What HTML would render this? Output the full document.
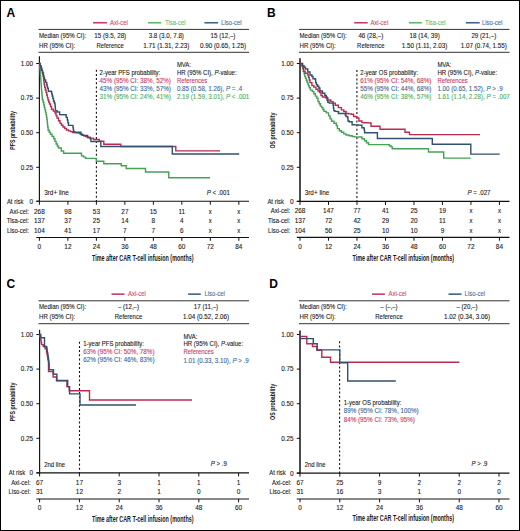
<!DOCTYPE html><html><head><meta charset="utf-8"><style>
html,body{margin:0;padding:0;background:#fff;}
svg{display:block;}
text{font-family:"Liberation Sans",sans-serif;}
</style></head><body>
<svg width="520" height="531" viewBox="0 0 520 531">
<rect x="0.5" y="0.5" width="519" height="530" fill="#fff" stroke="#000" stroke-width="1"/>
<text x="6.6" y="16.6" font-weight="bold" font-size="12" fill="#000">A</text>
<line x1="93.1" y1="22.75" x2="106.9" y2="22.75" stroke="#c43e62" stroke-width="1.6" />
<text transform="translate(110 24.85) scale(0.9444 1)" fill="#cc4a6c" text-anchor="start" font-size="6.3" stroke="#cc4a6c" stroke-width="0.1" >Axi-cel</text>
<line x1="148.1" y1="22.75" x2="161.25" y2="22.75" stroke="#5cb86c" stroke-width="1.6" />
<text transform="translate(165 24.85) scale(0.9444 1)" fill="#66bb76" text-anchor="start" font-size="6.3" stroke="#66bb76" stroke-width="0.1" >Tisa-cel</text>
<line x1="204.4" y1="22.75" x2="218.1" y2="22.75" stroke="#3d6388" stroke-width="1.6" />
<text transform="translate(221.25 24.85) scale(0.9444 1)" fill="#46709a" text-anchor="start" font-size="6.3" stroke="#46709a" stroke-width="0.1" >Liso-cel</text>
<line x1="38.5" y1="29.4" x2="249" y2="29.4" stroke="#333" stroke-width="1" />
<line x1="38.5" y1="52.3" x2="249" y2="52.3" stroke="#333" stroke-width="1" />
<text transform="translate(39 38) scale(0.9645 1)" fill="#1a1a1a" text-anchor="start" font-size="6.3" stroke="#1a1a1a" stroke-width="0.1" >Median (95% CI):</text>
<text transform="translate(39 47.9) scale(0.9706 1)" fill="#1a1a1a" text-anchor="start" font-size="6.3" stroke="#1a1a1a" stroke-width="0.1" >HR (95% CI):</text>
<text transform="translate(110.2 38) scale(0.9952 1)" fill="#1a1a1a" text-anchor="middle" font-size="6.3" stroke="#1a1a1a" stroke-width="0.1" >15 (9.5, 28)</text>
<text transform="translate(110.2 47.9) scale(0.9444 1)" fill="#1a1a1a" text-anchor="middle" font-size="6.3" stroke="#1a1a1a" stroke-width="0.1" >Reference</text>
<text transform="translate(166.3 38) scale(0.9902 1)" fill="#1a1a1a" text-anchor="middle" font-size="6.3" stroke="#1a1a1a" stroke-width="0.1" >3.8 (3.0, 7.8)</text>
<text transform="translate(166.3 47.9) scale(0.9975 1)" fill="#1a1a1a" text-anchor="middle" font-size="6.3" stroke="#1a1a1a" stroke-width="0.1" >1.71 (1.31, 2.23)</text>
<text transform="translate(223 38) scale(0.9877 1)" fill="#1a1a1a" text-anchor="middle" font-size="6.3" stroke="#1a1a1a" stroke-width="0.1" >15 (12,–)</text>
<text transform="translate(223 47.9) scale(0.9975 1)" fill="#1a1a1a" text-anchor="middle" font-size="6.3" stroke="#1a1a1a" stroke-width="0.1" >0.90 (0.65, 1.25)</text>
<line x1="39.4" y1="56.3" x2="39.4" y2="201.25" stroke="#111" stroke-width="1.15" />
<line x1="36.199999999999996" y1="63.5" x2="39.4" y2="63.5" stroke="#111" stroke-width="1" />
<text transform="translate(33.1 65.7) scale(1.0111 1)" fill="#1a1a1a" text-anchor="end" font-size="6.3" stroke="#1a1a1a" stroke-width="0.1" >1.00</text>
<line x1="36.199999999999996" y1="98.1" x2="39.4" y2="98.1" stroke="#111" stroke-width="1" />
<text transform="translate(33.1 100.3) scale(1.0111 1)" fill="#1a1a1a" text-anchor="end" font-size="6.3" stroke="#1a1a1a" stroke-width="0.1" >0.75</text>
<line x1="36.199999999999996" y1="132.7" x2="39.4" y2="132.7" stroke="#111" stroke-width="1" />
<text transform="translate(33.1 134.89999999999998) scale(1.0111 1)" fill="#1a1a1a" text-anchor="end" font-size="6.3" stroke="#1a1a1a" stroke-width="0.1" >0.50</text>
<line x1="36.199999999999996" y1="167.3" x2="39.4" y2="167.3" stroke="#111" stroke-width="1" />
<text transform="translate(33.1 169.5) scale(1.0111 1)" fill="#1a1a1a" text-anchor="end" font-size="6.3" stroke="#1a1a1a" stroke-width="0.1" >0.25</text>
<line x1="36.199999999999996" y1="201.25" x2="39.4" y2="201.25" stroke="#111" stroke-width="1" />
<text transform="translate(33.1 203.75) scale(1.0222 1)" fill="#1a1a1a" text-anchor="end" font-size="6.3" stroke="#1a1a1a" stroke-width="0.1" >0</text>
<text x="0" y="0" fill="#1a1a1a" font-weight="bold" font-size="7.8" textLength="38.7" lengthAdjust="spacingAndGlyphs" text-anchor="middle" transform="translate(15.4,130.5) rotate(-90)">PFS probability</text>
<line x1="36.3" y1="201.25" x2="249" y2="201.25" stroke="#111" stroke-width="1.15" />
<line x1="36.3" y1="237.5" x2="249" y2="237.5" stroke="#111" stroke-width="1.15" />
<line x1="39.4" y1="201.25" x2="39.4" y2="204.75" stroke="#111" stroke-width="1" />
<line x1="39.4" y1="237.5" x2="39.4" y2="240.8" stroke="#111" stroke-width="1" />
<text transform="translate(39.4 248.8) scale(1.0222 1)" fill="#1a1a1a" text-anchor="middle" font-size="6.3" stroke="#1a1a1a" stroke-width="0.1" >0</text>
<line x1="67.89" y1="201.25" x2="67.89" y2="204.75" stroke="#111" stroke-width="1" />
<line x1="67.89" y1="237.5" x2="67.89" y2="240.8" stroke="#111" stroke-width="1" />
<text transform="translate(67.89 248.8) scale(1.0222 1)" fill="#1a1a1a" text-anchor="middle" font-size="6.3" stroke="#1a1a1a" stroke-width="0.1" >12</text>
<line x1="96.38" y1="201.25" x2="96.38" y2="204.75" stroke="#111" stroke-width="1" />
<line x1="96.38" y1="237.5" x2="96.38" y2="240.8" stroke="#111" stroke-width="1" />
<text transform="translate(96.38 248.8) scale(1.0222 1)" fill="#1a1a1a" text-anchor="middle" font-size="6.3" stroke="#1a1a1a" stroke-width="0.1" >24</text>
<line x1="124.87" y1="201.25" x2="124.87" y2="204.75" stroke="#111" stroke-width="1" />
<line x1="124.87" y1="237.5" x2="124.87" y2="240.8" stroke="#111" stroke-width="1" />
<text transform="translate(124.87 248.8) scale(1.0222 1)" fill="#1a1a1a" text-anchor="middle" font-size="6.3" stroke="#1a1a1a" stroke-width="0.1" >36</text>
<line x1="153.35999999999999" y1="201.25" x2="153.35999999999999" y2="204.75" stroke="#111" stroke-width="1" />
<line x1="153.35999999999999" y1="237.5" x2="153.35999999999999" y2="240.8" stroke="#111" stroke-width="1" />
<text transform="translate(153.35999999999999 248.8) scale(1.0222 1)" fill="#1a1a1a" text-anchor="middle" font-size="6.3" stroke="#1a1a1a" stroke-width="0.1" >48</text>
<line x1="181.85" y1="201.25" x2="181.85" y2="204.75" stroke="#111" stroke-width="1" />
<line x1="181.85" y1="237.5" x2="181.85" y2="240.8" stroke="#111" stroke-width="1" />
<text transform="translate(181.85 248.8) scale(1.0222 1)" fill="#1a1a1a" text-anchor="middle" font-size="6.3" stroke="#1a1a1a" stroke-width="0.1" >60</text>
<line x1="210.34" y1="201.25" x2="210.34" y2="204.75" stroke="#111" stroke-width="1" />
<line x1="210.34" y1="237.5" x2="210.34" y2="240.8" stroke="#111" stroke-width="1" />
<text transform="translate(210.34 248.8) scale(1.0222 1)" fill="#1a1a1a" text-anchor="middle" font-size="6.3" stroke="#1a1a1a" stroke-width="0.1" >72</text>
<line x1="238.82999999999998" y1="201.25" x2="238.82999999999998" y2="204.75" stroke="#111" stroke-width="1" />
<line x1="238.82999999999998" y1="237.5" x2="238.82999999999998" y2="240.8" stroke="#111" stroke-width="1" />
<text transform="translate(238.82999999999998 248.8) scale(1.0222 1)" fill="#1a1a1a" text-anchor="middle" font-size="6.3" stroke="#1a1a1a" stroke-width="0.1" >84</text>
<text transform="translate(6.9 203.55) scale(0.9444 1)" fill="#1a1a1a" text-anchor="start" font-size="6.3" stroke="#1a1a1a" stroke-width="0.1" >At risk</text>
<text transform="translate(29 213.5) scale(0.9444 1)" fill="#1a1a1a" text-anchor="end" font-size="6.3" stroke="#1a1a1a" stroke-width="0.1" >Axi-cel:</text>
<text transform="translate(39.4 213.5) scale(1.0222 1)" fill="#1a1a1a" text-anchor="middle" font-size="6.3" stroke="#1a1a1a" stroke-width="0.1" >268</text>
<text transform="translate(67.89 213.5) scale(1.0222 1)" fill="#1a1a1a" text-anchor="middle" font-size="6.3" stroke="#1a1a1a" stroke-width="0.1" >98</text>
<text transform="translate(96.38 213.5) scale(1.0222 1)" fill="#1a1a1a" text-anchor="middle" font-size="6.3" stroke="#1a1a1a" stroke-width="0.1" >53</text>
<text transform="translate(124.87 213.5) scale(1.0222 1)" fill="#1a1a1a" text-anchor="middle" font-size="6.3" stroke="#1a1a1a" stroke-width="0.1" >27</text>
<text transform="translate(153.35999999999999 213.5) scale(1.0222 1)" fill="#1a1a1a" text-anchor="middle" font-size="6.3" stroke="#1a1a1a" stroke-width="0.1" >15</text>
<text transform="translate(181.85 213.5) scale(1.0222 1)" fill="#1a1a1a" text-anchor="middle" font-size="6.3" stroke="#1a1a1a" stroke-width="0.1" >11</text>
<text transform="translate(210.34 213.5) scale(0.9444 1)" fill="#1a1a1a" text-anchor="middle" font-size="6.3" stroke="#1a1a1a" stroke-width="0.1" >x</text>
<text transform="translate(238.82999999999998 213.5) scale(0.9444 1)" fill="#1a1a1a" text-anchor="middle" font-size="6.3" stroke="#1a1a1a" stroke-width="0.1" >x</text>
<text transform="translate(29 223.3) scale(0.9444 1)" fill="#1a1a1a" text-anchor="end" font-size="6.3" stroke="#1a1a1a" stroke-width="0.1" >Tisa-cel:</text>
<text transform="translate(39.4 223.3) scale(1.0222 1)" fill="#1a1a1a" text-anchor="middle" font-size="6.3" stroke="#1a1a1a" stroke-width="0.1" >137</text>
<text transform="translate(67.89 223.3) scale(1.0222 1)" fill="#1a1a1a" text-anchor="middle" font-size="6.3" stroke="#1a1a1a" stroke-width="0.1" >37</text>
<text transform="translate(96.38 223.3) scale(1.0222 1)" fill="#1a1a1a" text-anchor="middle" font-size="6.3" stroke="#1a1a1a" stroke-width="0.1" >25</text>
<text transform="translate(124.87 223.3) scale(1.0222 1)" fill="#1a1a1a" text-anchor="middle" font-size="6.3" stroke="#1a1a1a" stroke-width="0.1" >14</text>
<text transform="translate(153.35999999999999 223.3) scale(1.0222 1)" fill="#1a1a1a" text-anchor="middle" font-size="6.3" stroke="#1a1a1a" stroke-width="0.1" >8</text>
<text transform="translate(181.85 223.3) scale(1.0222 1)" fill="#1a1a1a" text-anchor="middle" font-size="6.3" stroke="#1a1a1a" stroke-width="0.1" >4</text>
<text transform="translate(210.34 223.3) scale(0.9444 1)" fill="#1a1a1a" text-anchor="middle" font-size="6.3" stroke="#1a1a1a" stroke-width="0.1" >x</text>
<text transform="translate(238.82999999999998 223.3) scale(0.9444 1)" fill="#1a1a1a" text-anchor="middle" font-size="6.3" stroke="#1a1a1a" stroke-width="0.1" >x</text>
<text transform="translate(29 233.3) scale(0.9444 1)" fill="#1a1a1a" text-anchor="end" font-size="6.3" stroke="#1a1a1a" stroke-width="0.1" >Liso-cel:</text>
<text transform="translate(39.4 233.3) scale(1.0222 1)" fill="#1a1a1a" text-anchor="middle" font-size="6.3" stroke="#1a1a1a" stroke-width="0.1" >104</text>
<text transform="translate(67.89 233.3) scale(1.0222 1)" fill="#1a1a1a" text-anchor="middle" font-size="6.3" stroke="#1a1a1a" stroke-width="0.1" >41</text>
<text transform="translate(96.38 233.3) scale(1.0222 1)" fill="#1a1a1a" text-anchor="middle" font-size="6.3" stroke="#1a1a1a" stroke-width="0.1" >17</text>
<text transform="translate(124.87 233.3) scale(1.0222 1)" fill="#1a1a1a" text-anchor="middle" font-size="6.3" stroke="#1a1a1a" stroke-width="0.1" >7</text>
<text transform="translate(153.35999999999999 233.3) scale(1.0222 1)" fill="#1a1a1a" text-anchor="middle" font-size="6.3" stroke="#1a1a1a" stroke-width="0.1" >7</text>
<text transform="translate(181.85 233.3) scale(1.0222 1)" fill="#1a1a1a" text-anchor="middle" font-size="6.3" stroke="#1a1a1a" stroke-width="0.1" >6</text>
<text transform="translate(210.34 233.3) scale(0.9444 1)" fill="#1a1a1a" text-anchor="middle" font-size="6.3" stroke="#1a1a1a" stroke-width="0.1" >x</text>
<text transform="translate(238.82999999999998 233.3) scale(0.9444 1)" fill="#1a1a1a" text-anchor="middle" font-size="6.3" stroke="#1a1a1a" stroke-width="0.1" >x</text>
<text x="92" y="261.0" fill="#1a1a1a" font-weight="bold" font-size="8.4" textLength="101.5" lengthAdjust="spacingAndGlyphs" text-anchor="start" >Time after CAR T-cell infusion (months)</text>
<text transform="translate(44.2 195.15) scale(1.0107 1)" fill="#1a1a1a" text-anchor="start" font-size="6.3" stroke="#1a1a1a" stroke-width="0.1" >3rd+ line</text>
<text transform="translate(206.7 194.95) scale(0.9790 1)" fill="#1a1a1a" text-anchor="start" font-size="6.3" stroke="#1a1a1a" stroke-width="0.1"><tspan font-style="italic">P</tspan><tspan> &lt; .001</tspan></text>
<line x1="96.4" y1="69.7" x2="96.4" y2="201.25" stroke="#111" stroke-width="1.1" stroke-dasharray="2 2.2"/>
<polyline points="39.40,63.50 39.62,63.50 39.62,65.62 39.85,65.62 39.85,67.75 40.07,67.75 40.07,69.88 40.30,69.88 40.30,72.00 40.42,72.00 40.42,74.00 40.55,74.00 40.55,76.00 40.67,76.00 40.67,78.00 40.80,78.00 40.80,80.00 40.94,80.00 40.94,82.00 41.08,82.00 41.08,84.00 41.22,84.00 41.22,86.00 41.36,86.00 41.36,88.00 41.50,88.00 41.50,90.00 41.68,90.00 41.68,92.00 41.86,92.00 41.86,94.00 42.04,94.00 42.04,96.00 42.22,96.00 42.22,98.00 42.40,98.00 42.40,100.00 43.10,100.00 43.10,102.50 43.80,102.50 43.80,105.00 44.37,105.00 44.37,107.43 44.93,107.43 44.93,109.87 45.50,109.87 45.50,112.30 46.00,112.30 46.00,114.65 46.50,114.65 46.50,117.00 46.85,117.00 46.85,119.50 47.20,119.50 47.20,122.00 47.45,122.00 47.45,124.50 47.70,124.50 47.70,127.00 48.10,127.00 48.10,130.20 49.25,130.20 49.25,132.20 50.40,132.20 50.40,134.20 52.10,134.20 52.10,136.50 53.80,136.50 53.80,138.80 54.95,138.80 54.95,141.40 56.10,141.40 56.10,144.00 57.30,144.00 57.30,146.00 58.50,146.00 58.50,148.00 61.30,148.00 61.30,151.00 63.60,151.00 63.60,153.30 79.80,153.30 81.50,153.30 81.50,155.90 83.55,155.90 83.55,157.15 85.60,157.15 85.60,158.40 96.30,158.40 96.30,161.20 103.80,161.20 103.80,163.80 121.20,163.80 121.20,165.80 126.20,165.80 126.20,168.50 145.50,168.50 145.50,172.00 168.75,172.00 168.75,177.75 210.00,177.75" fill="none" stroke="#45a156" stroke-width="1.4" stroke-linejoin="miter"/>
<polyline points="39.40,63.50 40.20,63.50 40.20,65.75 41.00,65.75 41.00,68.00 41.65,68.00 41.65,70.00 42.30,70.00 42.30,72.00 42.70,72.00 42.70,74.00 43.10,74.00 43.10,76.00 43.50,76.00 43.50,78.00 43.73,78.00 43.73,80.27 43.97,80.27 43.97,82.53 44.20,82.53 44.20,84.80 44.75,84.80 44.75,87.40 45.30,87.40 45.30,90.00 46.05,90.00 46.05,92.65 46.80,92.65 46.80,95.30 47.40,95.30 47.40,97.65 48.00,97.65 48.00,100.00 48.75,100.00 48.75,102.00 49.50,102.00 49.50,104.00 50.50,104.00 50.50,106.50 51.50,106.50 51.50,109.20 53.25,109.20 53.25,111.10 55.00,111.10 55.00,113.00 56.00,113.00 56.00,115.50 57.00,115.50 57.00,118.00 58.50,118.00 58.50,120.70 60.00,120.70 60.00,123.40 61.50,123.40 61.50,125.20 63.00,125.20 63.00,127.00 64.75,127.00 64.75,128.50 66.50,128.50 66.50,130.00 68.50,130.00 68.50,130.83 70.50,130.83 70.50,131.67 72.50,131.67 72.50,132.50 75.25,132.50 75.25,132.75 78.00,132.75 78.00,133.00 80.00,133.00 80.00,134.15 82.00,134.15 82.00,135.30 83.75,135.30 83.75,135.90 85.50,135.90 85.50,136.50 88.00,136.50 88.00,137.50 90.00,137.50 90.00,138.10 93.50,138.10 93.50,139.50 99.20,139.50 99.20,141.20 101.90,141.20 103.80,141.20 103.80,144.20 120.80,144.20 120.80,146.50 175.80,146.50 175.80,150.90 220.00,150.90" fill="none" stroke="#bb2b50" stroke-width="1.4" stroke-linejoin="miter"/>
<polyline points="39.40,63.50 40.10,63.50 40.10,65.77 40.80,65.77 40.80,68.03 41.50,68.03 41.50,70.30 42.50,70.30 42.50,73.00 43.50,73.00 43.50,76.00 44.00,76.00 44.00,78.00 44.50,78.00 44.50,80.00 45.65,80.00 45.65,82.40 46.80,82.40 46.80,84.80 47.15,84.80 47.15,86.50 47.50,86.50 47.50,88.20 48.30,88.20 48.30,91.20 51.30,91.20 51.30,92.00 51.75,92.00 51.75,94.00 52.20,94.00 52.20,96.00 52.85,96.00 52.85,98.50 53.50,98.50 53.50,101.00 54.25,101.00 54.25,103.00 55.00,103.00 55.00,105.00 55.17,105.00 55.17,106.93 55.33,106.93 55.33,108.87 55.50,108.87 55.50,110.80 57.00,110.80 57.00,112.00 59.60,112.00 59.60,114.60 65.00,114.80 66.15,114.80 66.15,117.40 67.30,117.40 67.30,120.00 67.90,120.00 67.90,122.70 68.50,122.70 68.50,125.40 72.70,125.40 72.97,125.40 72.97,127.33 73.23,127.33 73.23,129.27 73.50,129.27 73.50,131.20 74.00,131.20 74.00,132.30 79.60,132.30 81.00,132.30 81.00,134.50 82.70,134.50 82.70,135.30 86.90,135.50 87.50,135.50 87.50,137.50 90.40,137.50 90.40,139.20 91.00,139.20 91.00,141.50 100.80,141.50 100.80,146.50 172.30,146.50 172.30,154.00 239.20,154.00" fill="none" stroke="#32506f" stroke-width="1.4" stroke-linejoin="miter"/>
<text transform="translate(99.6 74.6) scale(0.9487 1)" fill="#1a1a1a" text-anchor="start" font-size="6.3" stroke="#1a1a1a" stroke-width="0.1" >2-year PFS probability:</text>
<text transform="translate(99.6 82.8) scale(0.9994 1)" fill="#c63a5e" text-anchor="start" font-size="6.3" stroke="#c63a5e" stroke-width="0.1" >45% (95% CI: 38%, 52%)</text>
<text transform="translate(99.6 90.8) scale(0.9994 1)" fill="#3a6794" text-anchor="start" font-size="6.3" stroke="#3a6794" stroke-width="0.1" >43% (95% CI: 33%, 57%)</text>
<text transform="translate(99.6 99.2) scale(0.9994 1)" fill="#4dad5e" text-anchor="start" font-size="6.3" stroke="#4dad5e" stroke-width="0.1" >31% (95% CI: 24%, 41%)</text>
<text transform="translate(176.9 67.4) scale(0.9444 1)" fill="#1a1a1a" text-anchor="start" font-size="6.3" stroke="#1a1a1a" stroke-width="0.1" >MVA:</text>
<text transform="translate(176.9 74.6) scale(0.9602 1)" fill="#1a1a1a" text-anchor="start" font-size="6.3" stroke="#1a1a1a" stroke-width="0.1"><tspan>HR (95% CI), </tspan><tspan font-style="italic">P</tspan><tspan>-value:</tspan></text>
<text transform="translate(176.9 82.8) scale(0.9444 1)" fill="#c63a5e" text-anchor="start" font-size="6.3" stroke="#c63a5e" stroke-width="0.1" >References</text>
<text transform="translate(176.9 90.8) scale(0.9855 1)" fill="#3a6794" text-anchor="start" font-size="6.3" stroke="#3a6794" stroke-width="0.1"><tspan>0.85 (0.58, 1.26), </tspan><tspan font-style="italic">P</tspan><tspan> = .4</tspan></text>
<text transform="translate(176.9 99.2) scale(0.9890 1)" fill="#4dad5e" text-anchor="start" font-size="6.3" stroke="#4dad5e" stroke-width="0.1"><tspan>2.19 (1.59, 3.01), </tspan><tspan font-style="italic">P</tspan><tspan> &lt; .001</tspan></text>
<text x="267.1" y="16.6" font-weight="bold" font-size="12" fill="#000">B</text>
<line x1="354.2" y1="22.75" x2="367.7" y2="22.75" stroke="#c43e62" stroke-width="1.6" />
<text transform="translate(370.4 24.85) scale(0.9444 1)" fill="#cc4a6c" text-anchor="start" font-size="6.3" stroke="#cc4a6c" stroke-width="0.1" >Axi-cel</text>
<line x1="408.8" y1="22.75" x2="421.9" y2="22.75" stroke="#5cb86c" stroke-width="1.6" />
<text transform="translate(425 24.85) scale(0.9444 1)" fill="#66bb76" text-anchor="start" font-size="6.3" stroke="#66bb76" stroke-width="0.1" >Tisa-cel</text>
<line x1="465.8" y1="22.75" x2="479.7" y2="22.75" stroke="#3d6388" stroke-width="1.6" />
<text transform="translate(482 24.85) scale(0.9444 1)" fill="#46709a" text-anchor="start" font-size="6.3" stroke="#46709a" stroke-width="0.1" >Liso-cel</text>
<line x1="299.0" y1="29.4" x2="509.5" y2="29.4" stroke="#333" stroke-width="1" />
<line x1="299.0" y1="52.3" x2="509.5" y2="52.3" stroke="#333" stroke-width="1" />
<text transform="translate(299.5 38) scale(0.9645 1)" fill="#1a1a1a" text-anchor="start" font-size="6.3" stroke="#1a1a1a" stroke-width="0.1" >Median (95% CI):</text>
<text transform="translate(299.5 47.9) scale(0.9706 1)" fill="#1a1a1a" text-anchor="start" font-size="6.3" stroke="#1a1a1a" stroke-width="0.1" >HR (95% CI):</text>
<text transform="translate(370.8 38) scale(0.9877 1)" fill="#1a1a1a" text-anchor="middle" font-size="6.3" stroke="#1a1a1a" stroke-width="0.1" >46 (28,–)</text>
<text transform="translate(370.8 47.9) scale(0.9444 1)" fill="#1a1a1a" text-anchor="middle" font-size="6.3" stroke="#1a1a1a" stroke-width="0.1" >Reference</text>
<text transform="translate(424.6 38) scale(0.9981 1)" fill="#1a1a1a" text-anchor="middle" font-size="6.3" stroke="#1a1a1a" stroke-width="0.1" >18 (14, 39)</text>
<text transform="translate(424.6 47.9) scale(0.9975 1)" fill="#1a1a1a" text-anchor="middle" font-size="6.3" stroke="#1a1a1a" stroke-width="0.1" >1.50 (1.11, 2.03)</text>
<text transform="translate(483.8 38) scale(0.9877 1)" fill="#1a1a1a" text-anchor="middle" font-size="6.3" stroke="#1a1a1a" stroke-width="0.1" >29 (21,–)</text>
<text transform="translate(483.8 47.9) scale(0.9975 1)" fill="#1a1a1a" text-anchor="middle" font-size="6.3" stroke="#1a1a1a" stroke-width="0.1" >1.07 (0.74, 1.55)</text>
<line x1="300" y1="58.3" x2="300" y2="201.4" stroke="#111" stroke-width="1.5" />
<line x1="296.8" y1="63.5" x2="300" y2="63.5" stroke="#111" stroke-width="1" />
<text transform="translate(293.6 65.7) scale(1.0111 1)" fill="#1a1a1a" text-anchor="end" font-size="6.3" stroke="#1a1a1a" stroke-width="0.1" >1.00</text>
<line x1="296.8" y1="98.1" x2="300" y2="98.1" stroke="#111" stroke-width="1" />
<text transform="translate(293.6 100.3) scale(1.0111 1)" fill="#1a1a1a" text-anchor="end" font-size="6.3" stroke="#1a1a1a" stroke-width="0.1" >0.75</text>
<line x1="296.8" y1="132.7" x2="300" y2="132.7" stroke="#111" stroke-width="1" />
<text transform="translate(293.6 134.89999999999998) scale(1.0111 1)" fill="#1a1a1a" text-anchor="end" font-size="6.3" stroke="#1a1a1a" stroke-width="0.1" >0.50</text>
<line x1="296.8" y1="167.3" x2="300" y2="167.3" stroke="#111" stroke-width="1" />
<text transform="translate(293.6 169.5) scale(1.0111 1)" fill="#1a1a1a" text-anchor="end" font-size="6.3" stroke="#1a1a1a" stroke-width="0.1" >0.25</text>
<line x1="296.8" y1="201.4" x2="300" y2="201.4" stroke="#111" stroke-width="1" />
<text transform="translate(293.6 203.9) scale(1.0222 1)" fill="#1a1a1a" text-anchor="end" font-size="6.3" stroke="#1a1a1a" stroke-width="0.1" >0</text>
<text x="0" y="0" fill="#1a1a1a" font-weight="bold" font-size="7.8" textLength="36" lengthAdjust="spacingAndGlyphs" text-anchor="middle" transform="translate(275.2,130.5) rotate(-90)">OS probability</text>
<line x1="296.8" y1="201.4" x2="509.5" y2="201.4" stroke="#111" stroke-width="1.15" />
<line x1="296.8" y1="237.4" x2="509.5" y2="237.4" stroke="#111" stroke-width="1.15" />
<line x1="300.0" y1="201.4" x2="300.0" y2="204.9" stroke="#111" stroke-width="1" />
<line x1="300.0" y1="237.4" x2="300.0" y2="240.70000000000002" stroke="#111" stroke-width="1" />
<text transform="translate(300.0 248.8) scale(1.0222 1)" fill="#1a1a1a" text-anchor="middle" font-size="6.3" stroke="#1a1a1a" stroke-width="0.1" >0</text>
<line x1="328.49" y1="201.4" x2="328.49" y2="204.9" stroke="#111" stroke-width="1" />
<line x1="328.49" y1="237.4" x2="328.49" y2="240.70000000000002" stroke="#111" stroke-width="1" />
<text transform="translate(328.49 248.8) scale(1.0222 1)" fill="#1a1a1a" text-anchor="middle" font-size="6.3" stroke="#1a1a1a" stroke-width="0.1" >12</text>
<line x1="356.98" y1="201.4" x2="356.98" y2="204.9" stroke="#111" stroke-width="1" />
<line x1="356.98" y1="237.4" x2="356.98" y2="240.70000000000002" stroke="#111" stroke-width="1" />
<text transform="translate(356.98 248.8) scale(1.0222 1)" fill="#1a1a1a" text-anchor="middle" font-size="6.3" stroke="#1a1a1a" stroke-width="0.1" >24</text>
<line x1="385.47" y1="201.4" x2="385.47" y2="204.9" stroke="#111" stroke-width="1" />
<line x1="385.47" y1="237.4" x2="385.47" y2="240.70000000000002" stroke="#111" stroke-width="1" />
<text transform="translate(385.47 248.8) scale(1.0222 1)" fill="#1a1a1a" text-anchor="middle" font-size="6.3" stroke="#1a1a1a" stroke-width="0.1" >36</text>
<line x1="413.96" y1="201.4" x2="413.96" y2="204.9" stroke="#111" stroke-width="1" />
<line x1="413.96" y1="237.4" x2="413.96" y2="240.70000000000002" stroke="#111" stroke-width="1" />
<text transform="translate(413.96 248.8) scale(1.0222 1)" fill="#1a1a1a" text-anchor="middle" font-size="6.3" stroke="#1a1a1a" stroke-width="0.1" >48</text>
<line x1="442.45" y1="201.4" x2="442.45" y2="204.9" stroke="#111" stroke-width="1" />
<line x1="442.45" y1="237.4" x2="442.45" y2="240.70000000000002" stroke="#111" stroke-width="1" />
<text transform="translate(442.45 248.8) scale(1.0222 1)" fill="#1a1a1a" text-anchor="middle" font-size="6.3" stroke="#1a1a1a" stroke-width="0.1" >60</text>
<line x1="470.94" y1="201.4" x2="470.94" y2="204.9" stroke="#111" stroke-width="1" />
<line x1="470.94" y1="237.4" x2="470.94" y2="240.70000000000002" stroke="#111" stroke-width="1" />
<text transform="translate(470.94 248.8) scale(1.0222 1)" fill="#1a1a1a" text-anchor="middle" font-size="6.3" stroke="#1a1a1a" stroke-width="0.1" >72</text>
<line x1="499.42999999999995" y1="201.4" x2="499.42999999999995" y2="204.9" stroke="#111" stroke-width="1" />
<line x1="499.42999999999995" y1="237.4" x2="499.42999999999995" y2="240.70000000000002" stroke="#111" stroke-width="1" />
<text transform="translate(499.42999999999995 248.8) scale(1.0222 1)" fill="#1a1a1a" text-anchor="middle" font-size="6.3" stroke="#1a1a1a" stroke-width="0.1" >84</text>
<text transform="translate(267.4 203.70000000000002) scale(0.9444 1)" fill="#1a1a1a" text-anchor="start" font-size="6.3" stroke="#1a1a1a" stroke-width="0.1" >At risk</text>
<text transform="translate(290.2 213.3) scale(0.9444 1)" fill="#1a1a1a" text-anchor="end" font-size="6.3" stroke="#1a1a1a" stroke-width="0.1" >Axi-cel:</text>
<text transform="translate(300.0 213.3) scale(1.0222 1)" fill="#1a1a1a" text-anchor="middle" font-size="6.3" stroke="#1a1a1a" stroke-width="0.1" >268</text>
<text transform="translate(328.49 213.3) scale(1.0222 1)" fill="#1a1a1a" text-anchor="middle" font-size="6.3" stroke="#1a1a1a" stroke-width="0.1" >147</text>
<text transform="translate(356.98 213.3) scale(1.0222 1)" fill="#1a1a1a" text-anchor="middle" font-size="6.3" stroke="#1a1a1a" stroke-width="0.1" >77</text>
<text transform="translate(385.47 213.3) scale(1.0222 1)" fill="#1a1a1a" text-anchor="middle" font-size="6.3" stroke="#1a1a1a" stroke-width="0.1" >41</text>
<text transform="translate(413.96 213.3) scale(1.0222 1)" fill="#1a1a1a" text-anchor="middle" font-size="6.3" stroke="#1a1a1a" stroke-width="0.1" >25</text>
<text transform="translate(442.45 213.3) scale(1.0222 1)" fill="#1a1a1a" text-anchor="middle" font-size="6.3" stroke="#1a1a1a" stroke-width="0.1" >19</text>
<text transform="translate(470.94 213.3) scale(0.9444 1)" fill="#1a1a1a" text-anchor="middle" font-size="6.3" stroke="#1a1a1a" stroke-width="0.1" >x</text>
<text transform="translate(499.42999999999995 213.3) scale(0.9444 1)" fill="#1a1a1a" text-anchor="middle" font-size="6.3" stroke="#1a1a1a" stroke-width="0.1" >x</text>
<text transform="translate(290.2 223.1) scale(0.9444 1)" fill="#1a1a1a" text-anchor="end" font-size="6.3" stroke="#1a1a1a" stroke-width="0.1" >Tisa-cel:</text>
<text transform="translate(300.0 223.1) scale(1.0222 1)" fill="#1a1a1a" text-anchor="middle" font-size="6.3" stroke="#1a1a1a" stroke-width="0.1" >137</text>
<text transform="translate(328.49 223.1) scale(1.0222 1)" fill="#1a1a1a" text-anchor="middle" font-size="6.3" stroke="#1a1a1a" stroke-width="0.1" >72</text>
<text transform="translate(356.98 223.1) scale(1.0222 1)" fill="#1a1a1a" text-anchor="middle" font-size="6.3" stroke="#1a1a1a" stroke-width="0.1" >42</text>
<text transform="translate(385.47 223.1) scale(1.0222 1)" fill="#1a1a1a" text-anchor="middle" font-size="6.3" stroke="#1a1a1a" stroke-width="0.1" >29</text>
<text transform="translate(413.96 223.1) scale(1.0222 1)" fill="#1a1a1a" text-anchor="middle" font-size="6.3" stroke="#1a1a1a" stroke-width="0.1" >20</text>
<text transform="translate(442.45 223.1) scale(1.0222 1)" fill="#1a1a1a" text-anchor="middle" font-size="6.3" stroke="#1a1a1a" stroke-width="0.1" >11</text>
<text transform="translate(470.94 223.1) scale(0.9444 1)" fill="#1a1a1a" text-anchor="middle" font-size="6.3" stroke="#1a1a1a" stroke-width="0.1" >x</text>
<text transform="translate(499.42999999999995 223.1) scale(0.9444 1)" fill="#1a1a1a" text-anchor="middle" font-size="6.3" stroke="#1a1a1a" stroke-width="0.1" >x</text>
<text transform="translate(290.2 233.1) scale(0.9444 1)" fill="#1a1a1a" text-anchor="end" font-size="6.3" stroke="#1a1a1a" stroke-width="0.1" >Liso-cel:</text>
<text transform="translate(300.0 233.1) scale(1.0222 1)" fill="#1a1a1a" text-anchor="middle" font-size="6.3" stroke="#1a1a1a" stroke-width="0.1" >104</text>
<text transform="translate(328.49 233.1) scale(1.0222 1)" fill="#1a1a1a" text-anchor="middle" font-size="6.3" stroke="#1a1a1a" stroke-width="0.1" >56</text>
<text transform="translate(356.98 233.1) scale(1.0222 1)" fill="#1a1a1a" text-anchor="middle" font-size="6.3" stroke="#1a1a1a" stroke-width="0.1" >25</text>
<text transform="translate(385.47 233.1) scale(1.0222 1)" fill="#1a1a1a" text-anchor="middle" font-size="6.3" stroke="#1a1a1a" stroke-width="0.1" >10</text>
<text transform="translate(413.96 233.1) scale(1.0222 1)" fill="#1a1a1a" text-anchor="middle" font-size="6.3" stroke="#1a1a1a" stroke-width="0.1" >10</text>
<text transform="translate(442.45 233.1) scale(1.0222 1)" fill="#1a1a1a" text-anchor="middle" font-size="6.3" stroke="#1a1a1a" stroke-width="0.1" >9</text>
<text transform="translate(470.94 233.1) scale(0.9444 1)" fill="#1a1a1a" text-anchor="middle" font-size="6.3" stroke="#1a1a1a" stroke-width="0.1" >x</text>
<text transform="translate(499.42999999999995 233.1) scale(0.9444 1)" fill="#1a1a1a" text-anchor="middle" font-size="6.3" stroke="#1a1a1a" stroke-width="0.1" >x</text>
<text x="352.5" y="261.2" fill="#1a1a1a" font-weight="bold" font-size="8.4" textLength="101.5" lengthAdjust="spacingAndGlyphs" text-anchor="start" >Time after CAR T-cell infusion (months)</text>
<text transform="translate(304.7 195.3) scale(1.0107 1)" fill="#1a1a1a" text-anchor="start" font-size="6.3" stroke="#1a1a1a" stroke-width="0.1" >3rd+ line</text>
<text transform="translate(467.4 195.1) scale(0.9790 1)" fill="#1a1a1a" text-anchor="start" font-size="6.3" stroke="#1a1a1a" stroke-width="0.1"><tspan font-style="italic">P</tspan><tspan> = .027</tspan></text>
<line x1="356.9" y1="70" x2="356.9" y2="201.4" stroke="#111" stroke-width="1.1" stroke-dasharray="2 2.2"/>
<polyline points="300.00,63.50 301.80,63.50 301.80,66.00 302.55,66.00 302.55,68.65 303.30,68.65 303.30,71.30 304.05,71.30 304.05,73.90 304.80,73.90 304.80,76.50 305.55,76.50 305.55,78.40 306.30,78.40 306.30,80.30 307.05,80.30 307.05,82.20 307.80,82.20 307.80,84.10 308.55,84.10 308.55,85.95 309.30,85.95 309.30,87.80 310.40,87.80 310.40,90.10 312.30,90.10 312.30,91.60 313.80,91.60 313.80,93.80 315.30,93.80 315.30,96.10 316.80,96.10 316.80,98.30 318.00,98.30 318.00,101.50 319.15,101.50 319.15,103.80 320.30,103.80 320.30,106.10 321.80,106.10 321.80,107.60 322.90,107.60 322.90,109.50 324.00,109.50 324.00,111.40 326.30,111.40 326.30,112.90 328.60,112.90 328.60,115.90 330.10,115.90 330.10,118.90 331.60,118.90 331.60,121.20 334.00,121.20 334.00,123.30 336.30,123.30 336.30,125.60 337.40,125.60 337.40,128.60 339.30,128.60 339.30,130.80 341.50,130.80 341.50,132.30 343.80,132.30 343.80,133.90 346.10,133.90 346.10,135.00 349.10,135.00 349.10,135.70 352.10,135.70 352.10,136.50 354.35,136.50 354.35,136.85 356.60,136.85 356.60,137.20 359.60,137.00 361.90,137.00 361.90,138.80 364.50,138.80 364.50,140.80 366.50,140.80 366.50,142.70 368.50,142.70 368.50,144.60 387.70,144.60 389.35,144.60 389.35,145.75 391.00,145.75 391.00,146.90 392.30,146.90 392.30,148.80 428.50,148.80 428.50,152.00 443.70,152.00 443.70,158.10 470.80,158.10" fill="none" stroke="#45a156" stroke-width="1.4" stroke-linejoin="miter"/>
<polyline points="300.00,63.50 302.50,63.50 302.50,66.00 303.05,66.00 303.05,68.65 303.60,68.65 303.60,71.30 305.10,71.30 305.10,73.20 307.80,73.20 307.80,75.00 308.50,75.00 308.50,77.30 309.25,77.30 309.25,79.95 310.00,79.95 310.00,82.60 311.90,82.60 311.90,85.60 313.80,85.60 313.80,87.10 316.00,87.10 316.00,89.30 318.00,89.30 318.00,91.00 319.50,91.00 319.50,92.50 321.00,92.50 321.00,95.50 322.50,95.50 322.50,97.00 325.50,97.00 325.50,97.80 327.80,97.80 327.80,100.00 330.80,100.00 330.80,101.60 333.10,101.60 333.10,103.10 335.30,103.10 335.30,105.30 338.30,105.30 338.30,107.60 341.40,107.60 341.40,109.90 343.80,109.90 343.80,111.50 346.10,111.50 346.10,113.50 348.70,113.50 348.70,113.90 351.30,113.90 351.30,114.30 353.60,114.30 353.60,116.50 356.60,116.50 356.60,118.00 358.90,118.00 358.90,121.00 361.90,121.00 361.90,122.60 363.92,122.60 363.92,122.70 365.95,122.70 365.95,122.80 367.98,122.80 367.98,122.90 370.00,122.90 370.00,123.00 371.00,123.00 371.00,126.20 378.50,126.20 380.00,126.20 380.00,129.20 404.60,129.20 405.00,129.20 405.00,132.30 409.20,132.30 409.50,132.30 409.50,134.60 480.00,134.60" fill="none" stroke="#bb2b50" stroke-width="1.4" stroke-linejoin="miter"/>
<polyline points="300.00,63.50 300.60,63.80 302.50,63.80 302.50,65.60 304.00,65.60 304.00,67.30 305.50,67.30 305.50,69.00 307.80,69.00 307.80,72.00 310.00,72.00 310.00,75.00 311.90,75.00 311.90,76.50 313.00,76.50 313.00,78.80 315.30,78.80 315.30,79.50 315.70,79.50 315.70,82.60 316.40,82.60 316.40,84.80 317.50,84.80 317.50,86.30 318.80,86.30 318.80,88.00 319.90,88.00 319.90,91.00 322.50,91.00 322.50,93.30 324.80,93.30 324.80,95.50 326.30,95.50 326.30,97.00 327.00,97.00 327.00,100.00 327.80,100.00 327.80,102.30 329.30,102.30 329.30,103.10 332.30,103.10 333.10,103.10 333.10,105.30 333.45,105.30 333.45,107.95 333.80,107.95 333.80,110.60 335.00,110.60 335.00,111.40 337.80,111.40 337.80,111.80 338.50,111.80 338.50,113.50 343.80,113.50 345.30,113.50 345.30,115.00 346.10,115.00 346.10,116.50 347.60,116.50 347.60,118.00 348.00,118.00 348.00,121.00 349.10,121.00 349.10,121.80 351.30,121.80 352.10,121.80 352.10,124.80 354.35,124.80 354.35,124.90 356.60,124.90 356.60,125.00 358.85,125.00 358.85,125.10 361.10,125.10 361.10,125.20 361.90,125.20 361.90,127.80 364.00,127.80 364.00,128.50 364.30,128.50 364.30,130.65 364.60,130.65 364.60,132.80 377.40,132.80 377.40,138.50 432.30,138.50 432.30,144.30 470.80,144.30 470.80,154.10 499.70,154.10" fill="none" stroke="#32506f" stroke-width="1.4" stroke-linejoin="miter"/>
<text transform="translate(360.2 74.6) scale(0.9489 1)" fill="#1a1a1a" text-anchor="start" font-size="6.3" stroke="#1a1a1a" stroke-width="0.1" >2-year OS probability:</text>
<text transform="translate(360.2 82.8) scale(0.9994 1)" fill="#c63a5e" text-anchor="start" font-size="6.3" stroke="#c63a5e" stroke-width="0.1" >61% (95% CI: 54%, 68%)</text>
<text transform="translate(360.2 90.8) scale(0.9994 1)" fill="#3a6794" text-anchor="start" font-size="6.3" stroke="#3a6794" stroke-width="0.1" >55% (95% CI: 44%, 68%)</text>
<text transform="translate(360.2 99.2) scale(0.9994 1)" fill="#4dad5e" text-anchor="start" font-size="6.3" stroke="#4dad5e" stroke-width="0.1" >46% (95% CI: 38%, 57%)</text>
<text transform="translate(437.4 67.4) scale(0.9444 1)" fill="#1a1a1a" text-anchor="start" font-size="6.3" stroke="#1a1a1a" stroke-width="0.1" >MVA:</text>
<text transform="translate(437.4 74.6) scale(0.9602 1)" fill="#1a1a1a" text-anchor="start" font-size="6.3" stroke="#1a1a1a" stroke-width="0.1"><tspan>HR (95% CI), </tspan><tspan font-style="italic">P</tspan><tspan>-value:</tspan></text>
<text transform="translate(437.4 82.8) scale(0.9444 1)" fill="#c63a5e" text-anchor="start" font-size="6.3" stroke="#c63a5e" stroke-width="0.1" >References</text>
<text transform="translate(437.4 90.8) scale(0.9855 1)" fill="#3a6794" text-anchor="start" font-size="6.3" stroke="#3a6794" stroke-width="0.1"><tspan>1.00 (0.65, 1.52), </tspan><tspan font-style="italic">P</tspan><tspan> &gt; .9</tspan></text>
<text transform="translate(437.4 99.2) scale(0.9890 1)" fill="#4dad5e" text-anchor="start" font-size="6.3" stroke="#4dad5e" stroke-width="0.1"><tspan>1.61 (1.14, 2.28), </tspan><tspan font-style="italic">P</tspan><tspan> = .007</tspan></text>
<text x="6.6" y="288.0" font-weight="bold" font-size="12" fill="#000">C</text>
<line x1="111.5" y1="294.15" x2="124.5" y2="294.15" stroke="#c43e62" stroke-width="1.6" />
<text transform="translate(128.1 296.25) scale(0.9444 1)" fill="#cc4a6c" text-anchor="start" font-size="6.3" stroke="#cc4a6c" stroke-width="0.1" >Axi-cel</text>
<line x1="188.1" y1="294.15" x2="200.8" y2="294.15" stroke="#3d6388" stroke-width="1.6" />
<text transform="translate(204.5 296.25) scale(0.9444 1)" fill="#46709a" text-anchor="start" font-size="6.3" stroke="#46709a" stroke-width="0.1" >Liso-cel</text>
<line x1="38.5" y1="300.79999999999995" x2="249" y2="300.79999999999995" stroke="#333" stroke-width="1" />
<line x1="38.5" y1="323.7" x2="249" y2="323.7" stroke="#333" stroke-width="1" />
<text transform="translate(39 309.4) scale(0.9645 1)" fill="#1a1a1a" text-anchor="start" font-size="6.3" stroke="#1a1a1a" stroke-width="0.1" >Median (95% CI):</text>
<text transform="translate(39 319.29999999999995) scale(0.9706 1)" fill="#1a1a1a" text-anchor="start" font-size="6.3" stroke="#1a1a1a" stroke-width="0.1" >HR (95% CI):</text>
<text transform="translate(128.5 309.4) scale(0.9695 1)" fill="#1a1a1a" text-anchor="middle" font-size="6.3" stroke="#1a1a1a" stroke-width="0.1" >– (12,–)</text>
<text transform="translate(128.5 319.29999999999995) scale(0.9444 1)" fill="#1a1a1a" text-anchor="middle" font-size="6.3" stroke="#1a1a1a" stroke-width="0.1" >Reference</text>
<text transform="translate(206 309.4) scale(0.9877 1)" fill="#1a1a1a" text-anchor="middle" font-size="6.3" stroke="#1a1a1a" stroke-width="0.1" >17 (11,–)</text>
<text transform="translate(206 319.29999999999995) scale(0.9975 1)" fill="#1a1a1a" text-anchor="middle" font-size="6.3" stroke="#1a1a1a" stroke-width="0.1" >1.04 (0.52, 2.06)</text>
<line x1="39.6" y1="329.79999999999995" x2="39.6" y2="472.9" stroke="#111" stroke-width="1.15" />
<line x1="36.4" y1="334.5" x2="39.6" y2="334.5" stroke="#111" stroke-width="1" />
<text transform="translate(33.1 336.7) scale(1.0111 1)" fill="#1a1a1a" text-anchor="end" font-size="6.3" stroke="#1a1a1a" stroke-width="0.1" >1.00</text>
<line x1="36.4" y1="369.1" x2="39.6" y2="369.1" stroke="#111" stroke-width="1" />
<text transform="translate(33.1 371.3) scale(1.0111 1)" fill="#1a1a1a" text-anchor="end" font-size="6.3" stroke="#1a1a1a" stroke-width="0.1" >0.75</text>
<line x1="36.4" y1="403.7" x2="39.6" y2="403.7" stroke="#111" stroke-width="1" />
<text transform="translate(33.1 405.9) scale(1.0111 1)" fill="#1a1a1a" text-anchor="end" font-size="6.3" stroke="#1a1a1a" stroke-width="0.1" >0.50</text>
<line x1="36.4" y1="438.3" x2="39.6" y2="438.3" stroke="#111" stroke-width="1" />
<text transform="translate(33.1 440.5) scale(1.0111 1)" fill="#1a1a1a" text-anchor="end" font-size="6.3" stroke="#1a1a1a" stroke-width="0.1" >0.25</text>
<line x1="36.4" y1="472.9" x2="39.6" y2="472.9" stroke="#111" stroke-width="1" />
<text transform="translate(33.1 475.4) scale(1.0222 1)" fill="#1a1a1a" text-anchor="end" font-size="6.3" stroke="#1a1a1a" stroke-width="0.1" >0</text>
<text x="0" y="0" fill="#1a1a1a" font-weight="bold" font-size="7.8" textLength="38.7" lengthAdjust="spacingAndGlyphs" text-anchor="middle" transform="translate(15.4,401.9) rotate(-90)">PFS probability</text>
<line x1="36.3" y1="472.9" x2="249" y2="472.9" stroke="#111" stroke-width="1.15" />
<line x1="36.3" y1="499" x2="249" y2="499" stroke="#111" stroke-width="1.15" />
<line x1="39.6" y1="472.9" x2="39.6" y2="476.4" stroke="#111" stroke-width="1" />
<line x1="39.6" y1="499" x2="39.6" y2="502.3" stroke="#111" stroke-width="1" />
<text transform="translate(39.6 510.2) scale(1.0222 1)" fill="#1a1a1a" text-anchor="middle" font-size="6.3" stroke="#1a1a1a" stroke-width="0.1" >0</text>
<line x1="79.4" y1="472.9" x2="79.4" y2="476.4" stroke="#111" stroke-width="1" />
<line x1="79.4" y1="499" x2="79.4" y2="502.3" stroke="#111" stroke-width="1" />
<text transform="translate(79.4 510.2) scale(1.0222 1)" fill="#1a1a1a" text-anchor="middle" font-size="6.3" stroke="#1a1a1a" stroke-width="0.1" >12</text>
<line x1="119.19999999999999" y1="472.9" x2="119.19999999999999" y2="476.4" stroke="#111" stroke-width="1" />
<line x1="119.19999999999999" y1="499" x2="119.19999999999999" y2="502.3" stroke="#111" stroke-width="1" />
<text transform="translate(119.19999999999999 510.2) scale(1.0222 1)" fill="#1a1a1a" text-anchor="middle" font-size="6.3" stroke="#1a1a1a" stroke-width="0.1" >24</text>
<line x1="159.0" y1="472.9" x2="159.0" y2="476.4" stroke="#111" stroke-width="1" />
<line x1="159.0" y1="499" x2="159.0" y2="502.3" stroke="#111" stroke-width="1" />
<text transform="translate(159.0 510.2) scale(1.0222 1)" fill="#1a1a1a" text-anchor="middle" font-size="6.3" stroke="#1a1a1a" stroke-width="0.1" >36</text>
<line x1="198.79999999999998" y1="472.9" x2="198.79999999999998" y2="476.4" stroke="#111" stroke-width="1" />
<line x1="198.79999999999998" y1="499" x2="198.79999999999998" y2="502.3" stroke="#111" stroke-width="1" />
<text transform="translate(198.79999999999998 510.2) scale(1.0222 1)" fill="#1a1a1a" text-anchor="middle" font-size="6.3" stroke="#1a1a1a" stroke-width="0.1" >48</text>
<line x1="238.6" y1="472.9" x2="238.6" y2="476.4" stroke="#111" stroke-width="1" />
<line x1="238.6" y1="499" x2="238.6" y2="502.3" stroke="#111" stroke-width="1" />
<text transform="translate(238.6 510.2) scale(1.0222 1)" fill="#1a1a1a" text-anchor="middle" font-size="6.3" stroke="#1a1a1a" stroke-width="0.1" >60</text>
<text transform="translate(8.75 475.2) scale(0.9444 1)" fill="#1a1a1a" text-anchor="start" font-size="6.3" stroke="#1a1a1a" stroke-width="0.1" >At risk</text>
<text transform="translate(30.6 484.5) scale(0.9444 1)" fill="#1a1a1a" text-anchor="end" font-size="6.3" stroke="#1a1a1a" stroke-width="0.1" >Axi-cel:</text>
<text transform="translate(39.6 484.5) scale(1.0222 1)" fill="#1a1a1a" text-anchor="middle" font-size="6.3" stroke="#1a1a1a" stroke-width="0.1" >67</text>
<text transform="translate(79.4 484.5) scale(1.0222 1)" fill="#1a1a1a" text-anchor="middle" font-size="6.3" stroke="#1a1a1a" stroke-width="0.1" >17</text>
<text transform="translate(119.19999999999999 484.5) scale(1.0222 1)" fill="#1a1a1a" text-anchor="middle" font-size="6.3" stroke="#1a1a1a" stroke-width="0.1" >3</text>
<text transform="translate(159.0 484.5) scale(1.0222 1)" fill="#1a1a1a" text-anchor="middle" font-size="6.3" stroke="#1a1a1a" stroke-width="0.1" >1</text>
<text transform="translate(198.79999999999998 484.5) scale(1.0222 1)" fill="#1a1a1a" text-anchor="middle" font-size="6.3" stroke="#1a1a1a" stroke-width="0.1" >1</text>
<text transform="translate(238.6 484.5) scale(1.0222 1)" fill="#1a1a1a" text-anchor="middle" font-size="6.3" stroke="#1a1a1a" stroke-width="0.1" >1</text>
<text transform="translate(30.6 494.1) scale(0.9444 1)" fill="#1a1a1a" text-anchor="end" font-size="6.3" stroke="#1a1a1a" stroke-width="0.1" >Liso-cel:</text>
<text transform="translate(39.6 494.1) scale(1.0222 1)" fill="#1a1a1a" text-anchor="middle" font-size="6.3" stroke="#1a1a1a" stroke-width="0.1" >31</text>
<text transform="translate(79.4 494.1) scale(1.0222 1)" fill="#1a1a1a" text-anchor="middle" font-size="6.3" stroke="#1a1a1a" stroke-width="0.1" >12</text>
<text transform="translate(119.19999999999999 494.1) scale(1.0222 1)" fill="#1a1a1a" text-anchor="middle" font-size="6.3" stroke="#1a1a1a" stroke-width="0.1" >2</text>
<text transform="translate(159.0 494.1) scale(1.0222 1)" fill="#1a1a1a" text-anchor="middle" font-size="6.3" stroke="#1a1a1a" stroke-width="0.1" >1</text>
<text transform="translate(198.79999999999998 494.1) scale(1.0222 1)" fill="#1a1a1a" text-anchor="middle" font-size="6.3" stroke="#1a1a1a" stroke-width="0.1" >0</text>
<text transform="translate(238.6 494.1) scale(1.0222 1)" fill="#1a1a1a" text-anchor="middle" font-size="6.3" stroke="#1a1a1a" stroke-width="0.1" >0</text>
<text x="92" y="521.6" fill="#1a1a1a" font-weight="bold" font-size="8.4" textLength="101.5" lengthAdjust="spacingAndGlyphs" text-anchor="start" >Time after CAR T-cell infusion (months)</text>
<text transform="translate(44.2 466.79999999999995) scale(0.9471 1)" fill="#1a1a1a" text-anchor="start" font-size="6.3" stroke="#1a1a1a" stroke-width="0.1" >2nd line</text>
<text transform="translate(210.8 465.7) scale(0.9608 1)" fill="#1a1a1a" text-anchor="start" font-size="6.3" stroke="#1a1a1a" stroke-width="0.1"><tspan font-style="italic">P</tspan><tspan> &gt; .9</tspan></text>
<line x1="79.5" y1="341.7" x2="79.5" y2="472.9" stroke="#111" stroke-width="1.1" stroke-dasharray="2 2.2"/>
<polyline points="39.50,334.50 40.00,334.50 40.00,336.75 40.50,336.75 40.50,339.00 40.87,339.00 40.87,340.87 41.23,340.87 41.23,342.73 41.60,342.73 41.60,344.60 43.20,344.60 43.20,346.50 45.10,346.50 45.10,348.80 46.50,348.80 46.50,352.00 47.00,352.00 47.00,354.50 47.50,354.50 47.50,357.00 47.83,357.00 47.83,359.00 48.17,359.00 48.17,361.00 48.50,361.00 48.50,363.00 48.50,371.60 53.10,371.60 53.10,377.00 56.50,377.00 56.50,380.80 65.80,380.80 66.90,380.80 66.90,382.00 66.90,386.60 69.20,386.60 69.20,388.00 69.20,390.80 89.50,390.80 89.50,400.00 192.00,400.00" fill="none" stroke="#bb2b50" stroke-width="1.4" stroke-linejoin="miter"/>
<polyline points="39.50,334.50 40.80,334.50 40.80,337.70 44.50,337.70 44.50,346.50 46.60,346.50 46.60,347.30 46.87,347.30 46.87,349.20 47.13,349.20 47.13,351.10 47.40,351.10 47.40,353.00 47.77,353.00 47.77,355.33 48.13,355.33 48.13,357.67 48.50,357.67 48.50,360.00 48.73,360.00 48.73,362.00 48.97,362.00 48.97,364.00 49.20,364.00 49.20,366.00 49.20,369.70 53.50,369.70 53.50,374.30 56.90,374.30 56.90,380.50 65.80,380.50 67.70,380.50 67.70,382.50 67.70,386.60 69.60,386.60 69.60,387.00 69.60,393.90 80.00,393.90 80.00,405.00 136.00,405.00" fill="none" stroke="#32506f" stroke-width="1.4" stroke-linejoin="miter"/>
<text transform="translate(83.3 345.6) scale(0.9487 1)" fill="#1a1a1a" text-anchor="start" font-size="6.3" stroke="#1a1a1a" stroke-width="0.1" >1-year PFS probability:</text>
<text transform="translate(83.3 354.2) scale(0.9994 1)" fill="#c63a5e" text-anchor="start" font-size="6.3" stroke="#c63a5e" stroke-width="0.1" >63% (95% CI: 50%, 78%)</text>
<text transform="translate(83.3 362.3) scale(0.9994 1)" fill="#3a6794" text-anchor="start" font-size="6.3" stroke="#3a6794" stroke-width="0.1" >62% (95% CI: 46%, 83%)</text>
<text transform="translate(183.4 338.8) scale(0.9444 1)" fill="#1a1a1a" text-anchor="start" font-size="6.3" stroke="#1a1a1a" stroke-width="0.1" >MVA:</text>
<text transform="translate(183.4 346.1) scale(0.9602 1)" fill="#1a1a1a" text-anchor="start" font-size="6.3" stroke="#1a1a1a" stroke-width="0.1"><tspan>HR (95% CI), </tspan><tspan font-style="italic">P</tspan><tspan>-value:</tspan></text>
<text transform="translate(183.4 354.1) scale(0.9444 1)" fill="#c63a5e" text-anchor="start" font-size="6.3" stroke="#c63a5e" stroke-width="0.1" >References</text>
<text transform="translate(183.4 362.5) scale(0.9855 1)" fill="#3a6794" text-anchor="start" font-size="6.3" stroke="#3a6794" stroke-width="0.1"><tspan>1.01 (0.33, 3.10), </tspan><tspan font-style="italic">P</tspan><tspan> &gt; .9</tspan></text>
<text x="269.3" y="288.0" font-weight="bold" font-size="12" fill="#000">D</text>
<line x1="372" y1="294.15" x2="384.9" y2="294.15" stroke="#c43e62" stroke-width="1.6" />
<text transform="translate(388.5 296.25) scale(0.9444 1)" fill="#cc4a6c" text-anchor="start" font-size="6.3" stroke="#cc4a6c" stroke-width="0.1" >Axi-cel</text>
<line x1="448.5" y1="294.15" x2="461.5" y2="294.15" stroke="#3d6388" stroke-width="1.6" />
<text transform="translate(464.6 296.25) scale(0.9444 1)" fill="#46709a" text-anchor="start" font-size="6.3" stroke="#46709a" stroke-width="0.1" >Liso-cel</text>
<line x1="299.0" y1="300.79999999999995" x2="509.5" y2="300.79999999999995" stroke="#333" stroke-width="1" />
<line x1="299.0" y1="323.7" x2="509.5" y2="323.7" stroke="#333" stroke-width="1" />
<text transform="translate(299.5 309.4) scale(0.9645 1)" fill="#1a1a1a" text-anchor="start" font-size="6.3" stroke="#1a1a1a" stroke-width="0.1" >Median (95% CI):</text>
<text transform="translate(299.5 319.29999999999995) scale(0.9706 1)" fill="#1a1a1a" text-anchor="start" font-size="6.3" stroke="#1a1a1a" stroke-width="0.1" >HR (95% CI):</text>
<text transform="translate(389 309.4) scale(0.9444 1)" fill="#1a1a1a" text-anchor="middle" font-size="6.3" stroke="#1a1a1a" stroke-width="0.1" >– (–,–)</text>
<text transform="translate(389 319.29999999999995) scale(0.9444 1)" fill="#1a1a1a" text-anchor="middle" font-size="6.3" stroke="#1a1a1a" stroke-width="0.1" >Reference</text>
<text transform="translate(467 309.4) scale(0.9695 1)" fill="#1a1a1a" text-anchor="middle" font-size="6.3" stroke="#1a1a1a" stroke-width="0.1" >– (20,–)</text>
<text transform="translate(467 319.29999999999995) scale(0.9975 1)" fill="#1a1a1a" text-anchor="middle" font-size="6.3" stroke="#1a1a1a" stroke-width="0.1" >1.02 (0.34, 3.06)</text>
<line x1="300" y1="330.4" x2="300" y2="473.1" stroke="#111" stroke-width="1.5" />
<line x1="296.8" y1="334.5" x2="300" y2="334.5" stroke="#111" stroke-width="1" />
<text transform="translate(293.6 336.7) scale(1.0111 1)" fill="#1a1a1a" text-anchor="end" font-size="6.3" stroke="#1a1a1a" stroke-width="0.1" >1.00</text>
<line x1="296.8" y1="369.1" x2="300" y2="369.1" stroke="#111" stroke-width="1" />
<text transform="translate(293.6 371.3) scale(1.0111 1)" fill="#1a1a1a" text-anchor="end" font-size="6.3" stroke="#1a1a1a" stroke-width="0.1" >0.75</text>
<line x1="296.8" y1="403.7" x2="300" y2="403.7" stroke="#111" stroke-width="1" />
<text transform="translate(293.6 405.9) scale(1.0111 1)" fill="#1a1a1a" text-anchor="end" font-size="6.3" stroke="#1a1a1a" stroke-width="0.1" >0.50</text>
<line x1="296.8" y1="438.3" x2="300" y2="438.3" stroke="#111" stroke-width="1" />
<text transform="translate(293.6 440.5) scale(1.0111 1)" fill="#1a1a1a" text-anchor="end" font-size="6.3" stroke="#1a1a1a" stroke-width="0.1" >0.25</text>
<line x1="296.8" y1="473.1" x2="300" y2="473.1" stroke="#111" stroke-width="1" />
<text transform="translate(293.6 475.6) scale(1.0222 1)" fill="#1a1a1a" text-anchor="end" font-size="6.3" stroke="#1a1a1a" stroke-width="0.1" >0</text>
<text x="0" y="0" fill="#1a1a1a" font-weight="bold" font-size="7.8" textLength="36" lengthAdjust="spacingAndGlyphs" text-anchor="middle" transform="translate(275.2,401.9) rotate(-90)">OS probability</text>
<line x1="296.8" y1="473.1" x2="509.5" y2="473.1" stroke="#111" stroke-width="1.15" />
<line x1="296.8" y1="499" x2="509.5" y2="499" stroke="#111" stroke-width="1.15" />
<line x1="300.0" y1="473.1" x2="300.0" y2="476.6" stroke="#111" stroke-width="1" />
<line x1="300.0" y1="499" x2="300.0" y2="502.3" stroke="#111" stroke-width="1" />
<text transform="translate(300.0 509.8) scale(1.0222 1)" fill="#1a1a1a" text-anchor="middle" font-size="6.3" stroke="#1a1a1a" stroke-width="0.1" >0</text>
<line x1="339.8" y1="473.1" x2="339.8" y2="476.6" stroke="#111" stroke-width="1" />
<line x1="339.8" y1="499" x2="339.8" y2="502.3" stroke="#111" stroke-width="1" />
<text transform="translate(339.8 509.8) scale(1.0222 1)" fill="#1a1a1a" text-anchor="middle" font-size="6.3" stroke="#1a1a1a" stroke-width="0.1" >12</text>
<line x1="379.6" y1="473.1" x2="379.6" y2="476.6" stroke="#111" stroke-width="1" />
<line x1="379.6" y1="499" x2="379.6" y2="502.3" stroke="#111" stroke-width="1" />
<text transform="translate(379.6 509.8) scale(1.0222 1)" fill="#1a1a1a" text-anchor="middle" font-size="6.3" stroke="#1a1a1a" stroke-width="0.1" >24</text>
<line x1="419.4" y1="473.1" x2="419.4" y2="476.6" stroke="#111" stroke-width="1" />
<line x1="419.4" y1="499" x2="419.4" y2="502.3" stroke="#111" stroke-width="1" />
<text transform="translate(419.4 509.8) scale(1.0222 1)" fill="#1a1a1a" text-anchor="middle" font-size="6.3" stroke="#1a1a1a" stroke-width="0.1" >36</text>
<line x1="459.2" y1="473.1" x2="459.2" y2="476.6" stroke="#111" stroke-width="1" />
<line x1="459.2" y1="499" x2="459.2" y2="502.3" stroke="#111" stroke-width="1" />
<text transform="translate(459.2 509.8) scale(1.0222 1)" fill="#1a1a1a" text-anchor="middle" font-size="6.3" stroke="#1a1a1a" stroke-width="0.1" >48</text>
<line x1="499.0" y1="473.1" x2="499.0" y2="476.6" stroke="#111" stroke-width="1" />
<line x1="499.0" y1="499" x2="499.0" y2="502.3" stroke="#111" stroke-width="1" />
<text transform="translate(499.0 509.8) scale(1.0222 1)" fill="#1a1a1a" text-anchor="middle" font-size="6.3" stroke="#1a1a1a" stroke-width="0.1" >60</text>
<text transform="translate(269.25 475.40000000000003) scale(0.9444 1)" fill="#1a1a1a" text-anchor="start" font-size="6.3" stroke="#1a1a1a" stroke-width="0.1" >At risk</text>
<text transform="translate(291.5 484.5) scale(0.9444 1)" fill="#1a1a1a" text-anchor="end" font-size="6.3" stroke="#1a1a1a" stroke-width="0.1" >Axi-cel:</text>
<text transform="translate(300.0 484.5) scale(1.0222 1)" fill="#1a1a1a" text-anchor="middle" font-size="6.3" stroke="#1a1a1a" stroke-width="0.1" >67</text>
<text transform="translate(339.8 484.5) scale(1.0222 1)" fill="#1a1a1a" text-anchor="middle" font-size="6.3" stroke="#1a1a1a" stroke-width="0.1" >25</text>
<text transform="translate(379.6 484.5) scale(1.0222 1)" fill="#1a1a1a" text-anchor="middle" font-size="6.3" stroke="#1a1a1a" stroke-width="0.1" >9</text>
<text transform="translate(419.4 484.5) scale(1.0222 1)" fill="#1a1a1a" text-anchor="middle" font-size="6.3" stroke="#1a1a1a" stroke-width="0.1" >2</text>
<text transform="translate(459.2 484.5) scale(1.0222 1)" fill="#1a1a1a" text-anchor="middle" font-size="6.3" stroke="#1a1a1a" stroke-width="0.1" >2</text>
<text transform="translate(499.0 484.5) scale(1.0222 1)" fill="#1a1a1a" text-anchor="middle" font-size="6.3" stroke="#1a1a1a" stroke-width="0.1" >2</text>
<text transform="translate(291.5 494.1) scale(0.9444 1)" fill="#1a1a1a" text-anchor="end" font-size="6.3" stroke="#1a1a1a" stroke-width="0.1" >Liso-cel:</text>
<text transform="translate(300.0 494.1) scale(1.0222 1)" fill="#1a1a1a" text-anchor="middle" font-size="6.3" stroke="#1a1a1a" stroke-width="0.1" >31</text>
<text transform="translate(339.8 494.1) scale(1.0222 1)" fill="#1a1a1a" text-anchor="middle" font-size="6.3" stroke="#1a1a1a" stroke-width="0.1" >16</text>
<text transform="translate(379.6 494.1) scale(1.0222 1)" fill="#1a1a1a" text-anchor="middle" font-size="6.3" stroke="#1a1a1a" stroke-width="0.1" >3</text>
<text transform="translate(419.4 494.1) scale(1.0222 1)" fill="#1a1a1a" text-anchor="middle" font-size="6.3" stroke="#1a1a1a" stroke-width="0.1" >1</text>
<text transform="translate(459.2 494.1) scale(1.0222 1)" fill="#1a1a1a" text-anchor="middle" font-size="6.3" stroke="#1a1a1a" stroke-width="0.1" >0</text>
<text transform="translate(499.0 494.1) scale(1.0222 1)" fill="#1a1a1a" text-anchor="middle" font-size="6.3" stroke="#1a1a1a" stroke-width="0.1" >0</text>
<text x="352.5" y="521.2" fill="#1a1a1a" font-weight="bold" font-size="8.4" textLength="101.5" lengthAdjust="spacingAndGlyphs" text-anchor="start" >Time after CAR T-cell infusion (months)</text>
<text transform="translate(304.7 467.0) scale(0.9471 1)" fill="#1a1a1a" text-anchor="start" font-size="6.3" stroke="#1a1a1a" stroke-width="0.1" >2nd line</text>
<text transform="translate(471.5 465.90000000000003) scale(0.9608 1)" fill="#1a1a1a" text-anchor="start" font-size="6.3" stroke="#1a1a1a" stroke-width="0.1"><tspan font-style="italic">P</tspan><tspan> &gt; .9</tspan></text>
<line x1="339.6" y1="341.2" x2="339.6" y2="473.1" stroke="#111" stroke-width="1.1" stroke-dasharray="2 2.2"/>
<polyline points="300.00,334.50 300.00,336.50 306.80,336.50 306.80,343.80 312.50,343.80 312.50,346.50 316.80,346.50 316.80,350.30 321.80,350.30 321.80,357.20 330.50,357.20 330.50,362.30 459.40,362.30" fill="none" stroke="#bb2b50" stroke-width="1.4" stroke-linejoin="miter"/>
<polyline points="300.00,334.50 300.00,338.60 313.30,338.60 313.30,343.80 317.20,343.80 317.20,349.90 339.80,349.90 339.80,362.70 347.70,362.70 347.70,381.00 395.80,381.00" fill="none" stroke="#32506f" stroke-width="1.4" stroke-linejoin="miter"/>
<text transform="translate(343.7 404.7) scale(0.9489 1)" fill="#1a1a1a" text-anchor="start" font-size="6.3" stroke="#1a1a1a" stroke-width="0.1" >1-year OS probability:</text>
<text transform="translate(343.7 413.4) scale(1.0004 1)" fill="#3a6794" text-anchor="start" font-size="6.3" stroke="#3a6794" stroke-width="0.1" >89% (95% CI: 78%, 100%)</text>
<text transform="translate(343.7 422) scale(0.9994 1)" fill="#c63a5e" text-anchor="start" font-size="6.3" stroke="#c63a5e" stroke-width="0.1" >84% (95% CI: 73%, 95%)</text>
</svg></body></html>
